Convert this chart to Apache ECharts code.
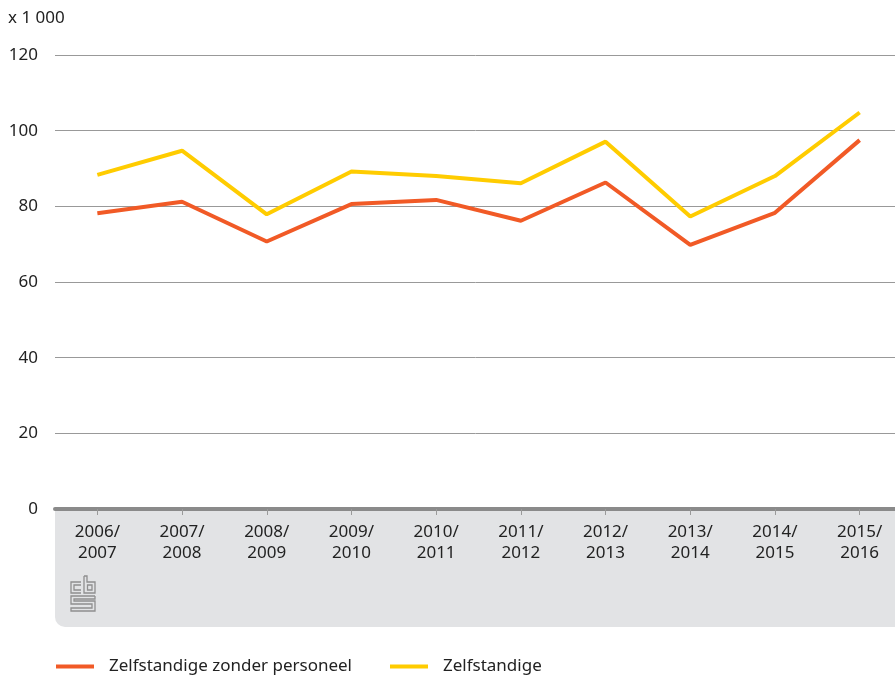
<!DOCTYPE html>
<html>
<head>
<meta charset="utf-8">
<script src="https://cdn.jsdelivr.net/npm/echarts@6/dist/echarts.min.js"></script>
<style>
  html, body { margin: 0; padding: 0; background: #ffffff; }
  #chart { width: 895px; height: 676px; }
</style>
</head>
<body>
<div id="chart"></div>
<script>
// School years on the x axis
const categories = ['2006/\n2007', '2007/\n2008', '2008/\n2009', '2009/\n2010', '2010/\n2011',
                    '2011/\n2012', '2012/\n2013', '2013/\n2014', '2014/\n2015', '2015/\n2016'];

// Values in thousands
const zzpValues = [78.2, 81.2, 70.7, 80.6, 81.7, 76.2, 86.3, 69.8, 78.3, 97.5];
const zelfstandigeValues = [88.3, 94.7, 77.9, 89.2, 88.0, 86.1, 97.1, 77.3, 88.0, 104.8];

const seriesNames = ['Zelfstandige zonder personeel', 'Zelfstandige'];
const yTicks = { min: 0, max: 120, interval: 20 };
const unitLabel = 'x 1 000';

const FONT = '"Noto Sans", sans-serif';
const ORANGE = '#f15a26';
const YELLOW = '#ffcc00';

const chart = echarts.init(document.getElementById('chart'), null, { renderer: 'canvas' });

// small grey "cbs" mark drawn inside the footer panel
function logoShapes() {
  const st = { stroke: '#8f8f8f', lineWidth: 1.3, fill: 'none' };
  const z = 1;
  return [
    // c
    { type: 'polyline', z, silent: true, shape: { points: [[81, 582], [71, 582], [71, 593], [81, 593]] }, style: st },
    { type: 'polyline', z, silent: true, shape: { points: [[81, 585], [74, 585], [74, 590], [81, 590]] }, style: st },
    // b
    { type: 'polyline', z, silent: true, shape: { points: [[84, 576], [84, 593], [95, 593], [95, 582], [87, 582], [87, 576], [84, 576]] }, style: st },
    { type: 'rect', z, silent: true, shape: { x: 87.5, y: 585, width: 4.5, height: 5 }, style: st },
    // s
    { type: 'polyline', z, silent: true, shape: { points: [[95, 596], [71, 596], [71, 604], [92, 604], [92, 608], [71, 608], [71, 611], [95, 611], [95, 601], [74, 601], [74, 599], [95, 599], [95, 596]] }, style: st }
  ];
}

chart.setOption({
  animation: false,
  backgroundColor: '#ffffff',
  textStyle: { fontFamily: FONT },
  // the plot runs slightly past the right edge of the canvas
  grid: { left: 55, top: 55, width: 847, height: 454, containLabel: false, outerBoundsMode: 'none' },
  graphic: [
    // footer panel behind the category labels
    {
      type: 'rect', z: -10, silent: true,
      shape: { x: 55, y: 509, width: 860, height: 118, r: [0, 0, 0, 10] },
      style: { fill: '#e2e3e5' }
    },
    {
      type: 'text', left: 8, top: 10, silent: true,
      style: { text: unitLabel, fontSize: 17, fontFamily: FONT, fill: '#222' }
    },
    ...logoShapes()
  ],
  legend: {
    left: 56, top: 658, padding: 0,
    itemWidth: 38, itemHeight: 4, itemGap: 38,
    icon: 'rect',
    data: seriesNames,
    textStyle: { fontSize: 17, color: '#222', fontFamily: FONT, padding: [0, 0, 0, 10] }
  },
  xAxis: {
    type: 'category',
    data: categories,
    boundaryGap: true,
    axisLine: { show: true, lineStyle: { color: '#8a8a8a', width: 4 } },
    axisTick: { show: true, alignWithLabel: true, length: 6, lineStyle: { color: '#9a9a9a', width: 1 } },
    axisLabel: { fontSize: 17, color: '#222', lineHeight: 21, margin: 13, fontFamily: FONT },
    splitLine: { show: false }
  },
  yAxis: {
    type: 'value',
    min: yTicks.min, max: yTicks.max, interval: yTicks.interval,
    axisLine: { show: false },
    axisTick: { show: false },
    axisLabel: { fontSize: 17, color: '#222', margin: 17, fontFamily: FONT },
    splitLine: { lineStyle: { color: '#999999', width: 1 } }
  },
  series: [
    {
      name: seriesNames[0], type: 'line', data: zzpValues,
      symbol: 'none', lineStyle: { color: ORANGE, width: 4 }, itemStyle: { color: ORANGE }, z: 3
    },
    {
      name: seriesNames[1], type: 'line', data: zelfstandigeValues,
      symbol: 'none', lineStyle: { color: YELLOW, width: 4 }, itemStyle: { color: YELLOW }, z: 2
    }
  ]
});
</script>
</body>
</html>
